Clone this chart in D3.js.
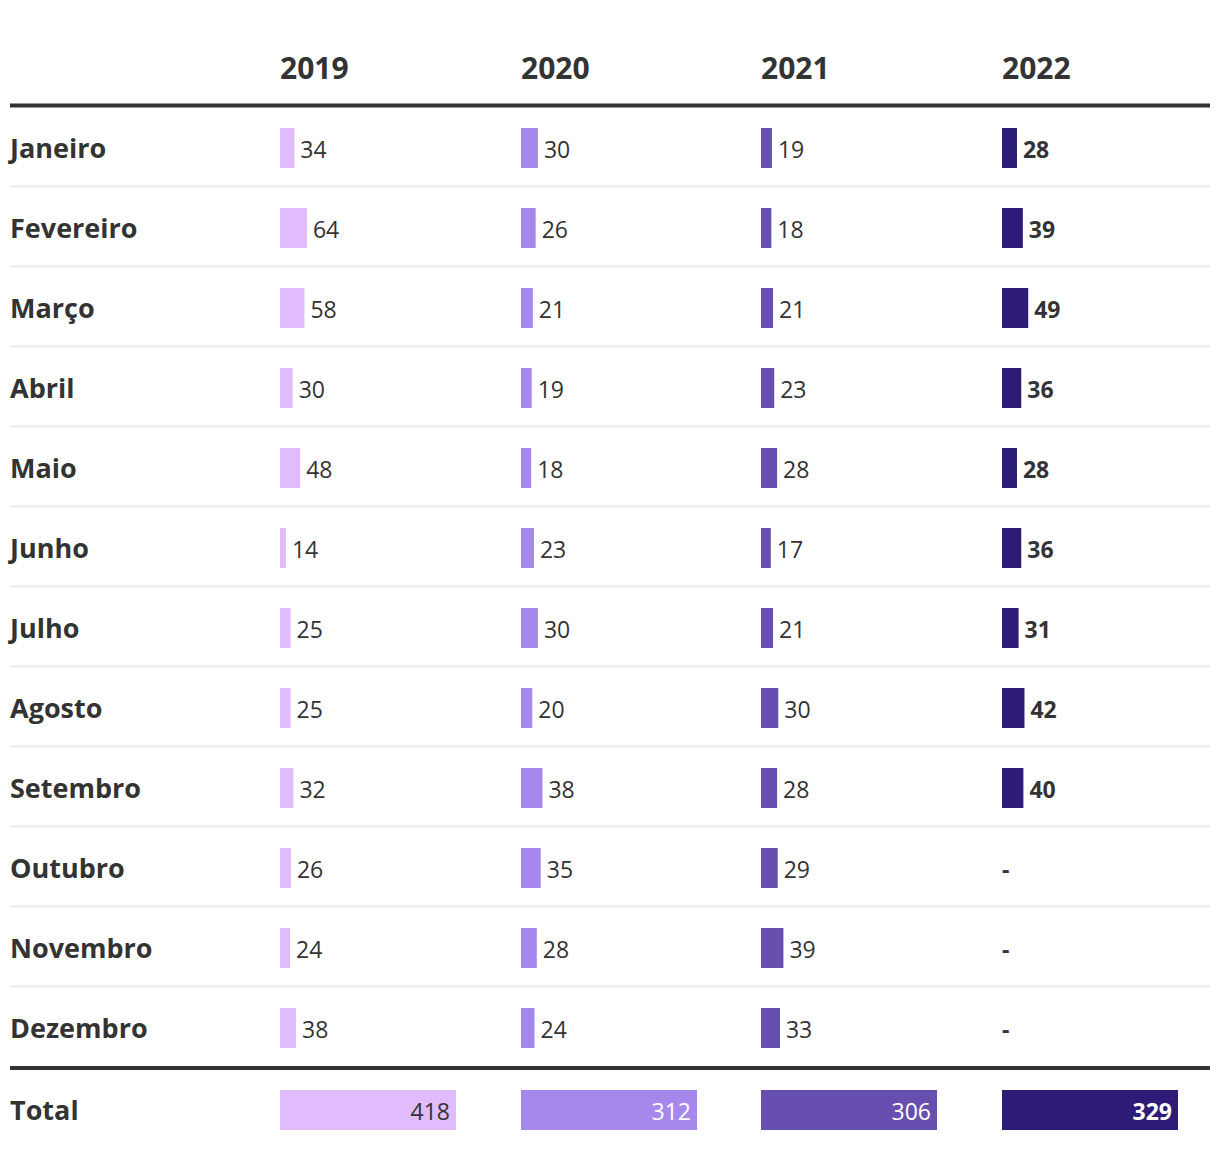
<!DOCTYPE html>
<html>
<head>
<meta charset="utf-8">
<script src="https://cdn.jsdelivr.net/npm/d3@7"></script>
<style>
  html, body { margin: 0; padding: 0; background: #fff; }
  svg { display: block; font-family: "Open Sans", sans-serif; }
</style>
</head>
<body>
<svg id="chart" width="1220" height="1158"></svg>
<script>
const months = ["Janeiro","Fevereiro","Março","Abril","Maio","Junho","Julho","Agosto","Setembro","Outubro","Novembro","Dezembro"];
const years = ["2019","2020","2021","2022"];
const v2019 = [34,64,58,30,48,14,25,25,32,26,24,38];
const v2020 = [30,26,21,19,18,23,30,20,38,35,28,24];
const v2021 = [19,18,21,23,28,17,21,30,28,29,39,33];
const v2022 = [28,39,49,36,28,36,31,42,40,null,null,null];
const totals = [418,312,306,329];
const colors = ["#e1bcfc","#a688ec","#674faf","#2d1b77"];
const totalLabel = "Total";

const series = [v2019, v2020, v2021, v2022];
const svg = d3.select("#chart");
const ink = "#333333";

const x = d3.scaleBand().domain(years).range([280, 280 + 240.67 * 4]).paddingInner(0);
const y = d3.scaleBand().domain(months).range([108, 1068]).paddingInner(0);
const barH = 40;
const widths = years.map((yr, i) => d3.scaleLinear().domain([0, totals[i]]).range([0, 176]));

// header
svg.selectAll("text.hdr").data(years).join("text")
  .attr("class", "hdr")
  .attr("x", d => Math.round(x(d)))
  .attr("y", 78.5)
  .attr("font-size", 30).attr("font-weight", 700).attr("fill", ink)
  .text(d => d);

// separators
svg.selectAll("line.sep").data(months.slice(0, -1)).join("line")
  .attr("class", "sep")
  .attr("x1", 10).attr("x2", 1210)
  .attr("y1", d => y(d) + y.bandwidth() - 1.5)
  .attr("y2", d => y(d) + y.bandwidth() - 1.5)
  .attr("stroke", "#ececec").attr("stroke-width", 2);

svg.append("line").attr("x1", 10).attr("x2", 1210).attr("y1", 105.5).attr("y2", 105.5)
  .attr("stroke", ink).attr("stroke-width", 4);
svg.append("line").attr("x1", 10).attr("x2", 1210).attr("y1", 1068).attr("y2", 1068)
  .attr("stroke", ink).attr("stroke-width", 4);

// month labels
svg.selectAll("text.month").data(months).join("text")
  .attr("class", "month")
  .attr("x", 10)
  .attr("y", d => y(d) + y.bandwidth() / 2 + 9.5)
  .attr("font-size", 27).attr("font-weight", 700).attr("fill", ink)
  .text(d => d);

// bars and values
years.forEach((yr, i) => {
  const g = svg.append("g");
  const x0 = Math.round(x(yr));
  const data = series[i].map((v, j) => ({ m: months[j], v }));
  const bold = i === 3;
  g.selectAll("rect").data(data.filter(d => d.v != null)).join("rect")
    .attr("x", x0)
    .attr("y", d => y(d.m) + (y.bandwidth() - barH) / 2)
    .attr("width", d => widths[i](d.v))
    .attr("height", barH)
    .attr("fill", colors[i]);
  g.selectAll("text").data(data).join("text")
    .attr("x", d => d.v != null ? x0 + widths[i](d.v) + 6 : x0)
    .attr("y", d => y(d.m) + y.bandwidth() / 2 + 9.5)
    .attr("font-size", 23).attr("font-weight", bold ? 700 : 400).attr("fill", ink)
    .text(d => d.v != null ? d.v : "-");
});

// total row
const ty = 1110;
svg.append("text").attr("x", 10).attr("y", ty + 9.5)
  .attr("font-size", 27).attr("font-weight", 700).attr("fill", ink).text(totalLabel);
years.forEach((yr, i) => {
  const x0 = Math.round(x(yr));
  const w = widths[i](totals[i]);
  svg.append("rect").attr("x", x0).attr("y", ty - barH / 2)
    .attr("width", w).attr("height", barH).attr("fill", colors[i]);
  svg.append("text").attr("x", x0 + w - 6).attr("y", ty + 9.5)
    .attr("text-anchor", "end")
    .attr("font-size", 23).attr("font-weight", i === 3 ? 700 : 400)
    .attr("fill", i === 0 ? ink : "#ffffff")
    .text(totals[i]);
});
</script>
</body>
</html>
